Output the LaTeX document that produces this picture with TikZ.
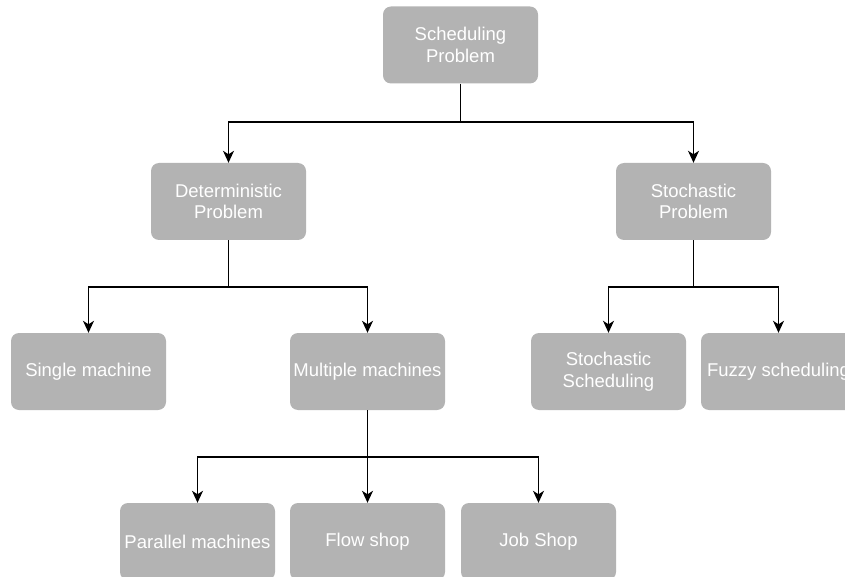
\documentclass[tikz,border=0pt]{standalone}
\usepackage{fontspec}
\setmainfont{Liberation Sans}
\usetikzlibrary{arrows.meta}
\definecolor{boxgray}{HTML}{B3B3B3}
\begin{document}
\begin{tikzpicture}[x=1pt,y=-1pt,
  box/.style={fill=boxgray, rounded corners=8pt, minimum width=155pt, minimum height=77pt,
    inner sep=0pt, text=white, align=center, font=\fontsize{18.5}{21.5}\selectfont},
  conn/.style={draw=black, line width=1.3pt},
  arr/.style={conn, -{Stealth[length=12pt,width=11pt,inset=3.5pt]}}]
\useasboundingbox (0,0) rectangle (845,577);
\clip (0,0) rectangle (845,577);
\node[box] (sp) at (460.5,45) {Scheduling\\Problem};
\node[box] (dp) at (228.5,201.5) {Deterministic\\Problem};
\node[box] (stp) at (693.5,201.5) {Stochastic\\Problem};
\node[box] (sm) at (88.5,371.5) {Single machine};
\node[box] (mm) at (367.5,371.5) {Multiple machines};
\node[box] (ss) at (608.5,371.5) {Stochastic\\Scheduling};
\node[box] (fs) at (778.5,371.5) {Fuzzy scheduling};
\node[box] (pm) at (197.5,541.5) {Parallel machines};
\node[box] (fl) at (367.5,541.5) {Flow shop};
\node[box] (js) at (538.5,541.5) {Job Shop};
\coordinate (j1) at (460.5,122);
\coordinate (j2) at (228.5,287);
\coordinate (j3) at (693.5,287);
\coordinate (j4) at (367.5,457);
\draw[conn] (sp.south) -- (j1);
\draw[arr] (j1) -| (dp.north);
\draw[arr] (j1) -| (stp.north);
\draw[conn] (dp.south) -- (j2);
\draw[arr] (j2) -| (sm.north);
\draw[arr] (j2) -| (mm.north);
\draw[conn] (stp.south) -- (j3);
\draw[arr] (j3) -| (ss.north);
\draw[arr] (j3) -| (fs.north);
\draw[arr] (mm.south) -- (fl.north);
\draw[arr] (j4) -| (pm.north);
\draw[arr] (j4) -| (js.north);
\end{tikzpicture}
\end{document}
